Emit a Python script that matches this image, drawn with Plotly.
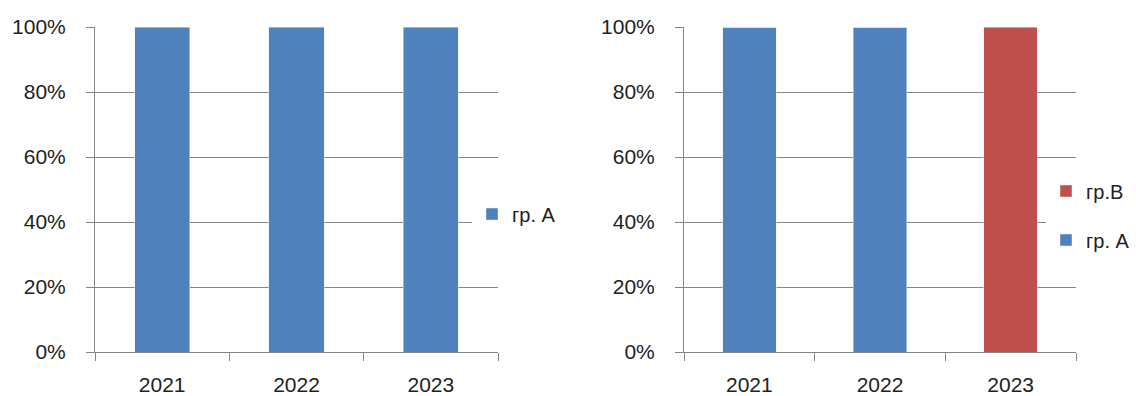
import plotly.graph_objects as go

years = ["2021", "2022", "2023"]
left_a = [100, 100, 100]
right_a = [100, 100, 0]
right_b = [0, 0, 100]
ytick_vals = [0, 20, 40, 60, 80, 100]
ytick_text = ["0%", "20%", "40%", "60%", "80%", "100%"]

BLUE = "#4F81BD"
RED = "#C0504D"
GRID = "#868686"
FONT = "Liberation Sans"

fig = go.Figure()
fig.add_trace(go.Bar(x=years, y=left_a, name="гр. А", marker_color=BLUE,
                     xaxis="x", yaxis="y", legend="legend"))
fig.add_trace(go.Bar(x=years, y=right_a, name="гр. А", marker_color=BLUE,
                     xaxis="x2", yaxis="y2", legend="legend3"))
fig.add_trace(go.Bar(x=years, y=right_b, name="гр.В", marker_color=RED,
                     xaxis="x2", yaxis="y2", legend="legend2"))

W, H = 1136, 396
y0, y1 = (H - 352) / H, (H - 27) / H

xcommon = dict(showline=True, linecolor=GRID, linewidth=1, ticks="outside",
               tickson="boundaries", ticklen=8, tickcolor=GRID,
               showgrid=False, automargin=False, ticklabelstandoff=14,
               tickfont=dict(family=FONT, size=21, color="#222"))
ycommon = dict(range=[0, 100], tickvals=ytick_vals, ticktext=ytick_text,
               showline=True, linecolor=GRID, linewidth=1, ticks="outside",
               ticklen=8, tickcolor=GRID, showgrid=True, gridcolor=GRID,
               gridwidth=1, zeroline=False, automargin=False,
               ticklabelstandoff=16,
               tickfont=dict(family=FONT, size=21, color="#222"))

legcommon = dict(bgcolor="rgba(255,255,255,1)", borderwidth=0,
                 font=dict(family=FONT, size=20, color="#222"),
                 xanchor="left", yanchor="middle")

fig.update_layout(
    width=W, height=H, margin=dict(l=0, r=0, t=0, b=0),
    paper_bgcolor="white", plot_bgcolor="white",
    barmode="stack", bargap=0.59,
    xaxis=dict(domain=[95 / W, 498 / W], anchor="y", **xcommon),
    yaxis=dict(domain=[y0, y1], anchor="x", **ycommon),
    xaxis2=dict(domain=[684 / W, 1076 / W], anchor="y2", **xcommon),
    yaxis2=dict(domain=[y0, y1], anchor="x2", **ycommon),
    legend=dict(x=472 / W, y=(H - 214) / H, **legcommon),
    legend2=dict(x=1046 / W, y=(H - 191) / H, **legcommon),
    legend3=dict(x=1046 / W, y=(H - 240) / H, **legcommon),
    showlegend=True,
)

fig.write_html("out.html")
